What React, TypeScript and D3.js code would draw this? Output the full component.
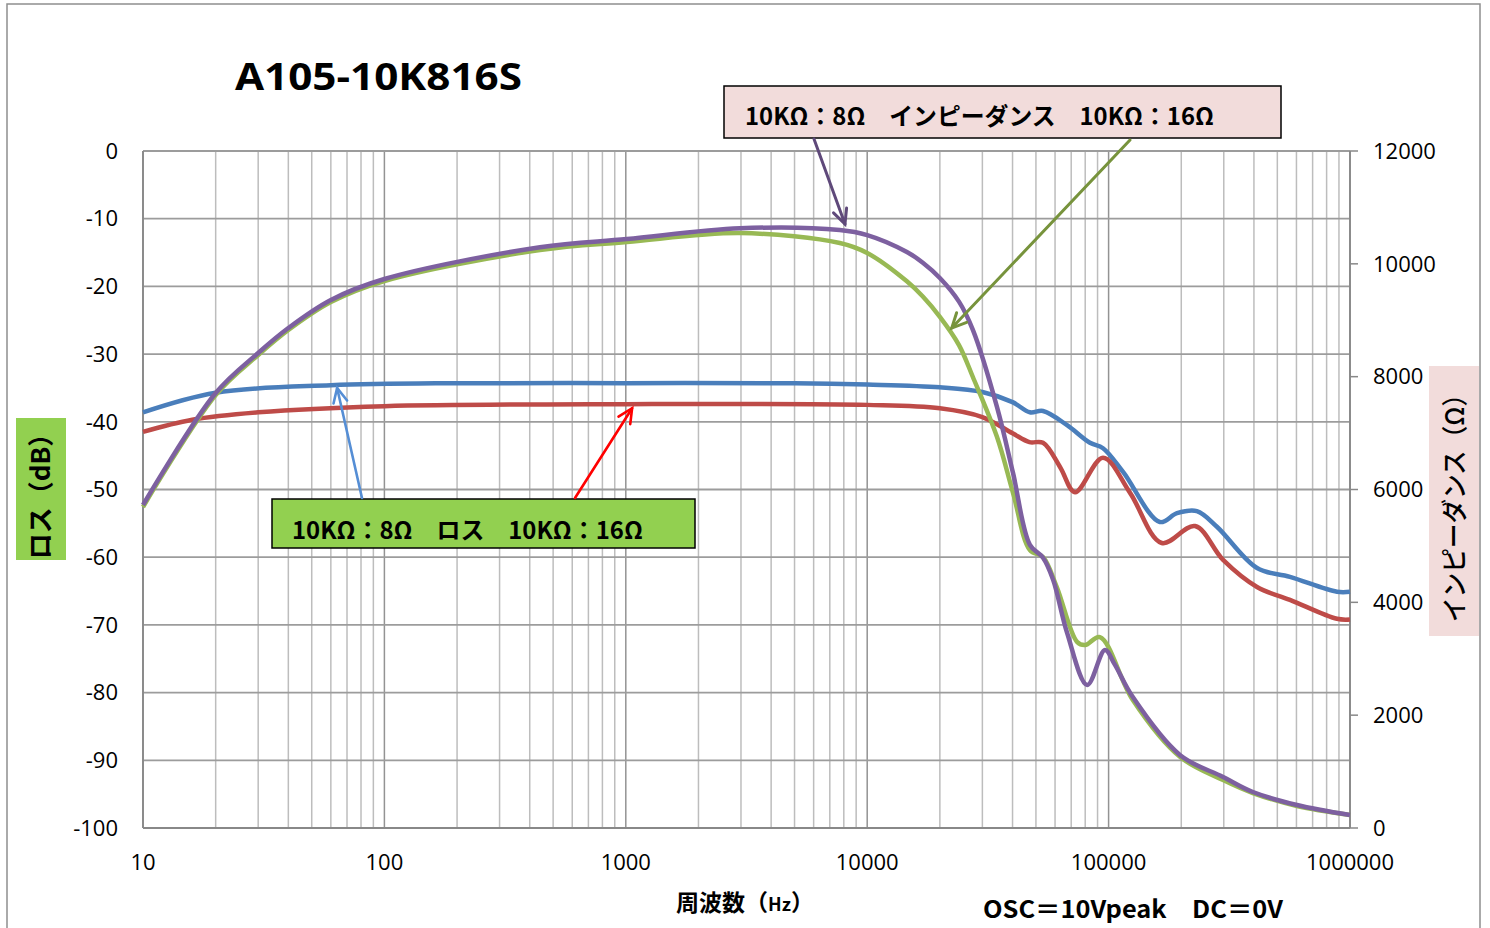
import * as d3 from "d3";

// frequency (Hz), value pairs
const loss8: [number, number][] = [
  [10, -38.6], [20, -35.7], [60, -34.6], [200, -34.3], [1000, -34.3], [5000, -34.3],
  [10000, -34.5], [20000, -34.9], [30000, -35.6], [40000, -37.1], [47200, -38.6],
  [53500, -38.4], [67300, -40.5], [83700, -43.1], [94800, -43.9], [114800, -47.4],
  [163000, -54.8], [192000, -53.5], [232000, -53.2], [281000, -55.5], [412000, -61.6],
  [564000, -62.9], [883000, -65.1], [1000000, -65.1],
];

const loss16: [number, number][] = [
  [10, -41.5], [16, -39.7], [30, -38.6], [100, -37.7], [1000, -37.4], [10000, -37.5],
  [20000, -38.0], [30000, -39.3], [40000, -41.7], [47000, -43.0], [53500, -43.1],
  [63000, -46.7], [72600, -50.4], [94800, -45.3], [122700, -50.5], [166000, -57.9],
  [228000, -55.4], [298000, -60.4], [412000, -64.4], [564000, -66.3], [883000, -69.1],
  [1000000, -69.2],
];

const imp16: [number, number][] = [
  [10, 5690], [20, 7675], [30, 8384], [40, 8827], [60, 9323], [100, 9696], [441, 10245],
  [1010, 10387], [2970, 10545], [7700, 10369], [10000, 10192], [14600, 9690],
  [17000, 9420], [20000, 9060], [24000, 8560], [27400, 7994], [34500, 6930], [40200, 5938],
  [47200, 4928], [53500, 4803], [61000, 4272], [74000, 3300], [80000, 3244],
  [92000, 3385], [126000, 2269], [198000, 1258], [298000, 850], [396000, 620],
  [603000, 390], [1000000, 230],
];

const imp8: [number, number][] = [
  [10, 5725], [20, 7710], [30, 8420], [40, 8862], [60, 9359], [100, 9731], [441, 10294],
  [1010, 10440], [2970, 10630], [7700, 10600], [10000, 10510], [14600, 10210],
  [17000, 10020], [20000, 9750], [24000, 9330], [27400, 8830], [34500, 7460], [40200, 6290],
  [47200, 5020], [53500, 4790], [58900, 4400], [67300, 3460], [81500, 2535],
  [96600, 3155], [106000, 2900], [126000, 2320], [198000, 1290],
  [298000, 905], [396000, 638], [603000, 408], [1000000, 230],
];

const xTicks = [10, 100, 1000, 10000, 100000, 1000000];
const lossTicks = d3.range(0, -101, -10);
const impTicks = d3.range(0, 12001, 2000);

const W = 1490;
const H = 928;
const L = 143, R = 1350, T = 151, B = 828;
const FONT = "'Open Sans', 'Noto Sans CJK JP', sans-serif";
const JP = "'Noto Sans CJK JP', 'Open Sans', sans-serif";

const x = d3.scaleLog().domain([10, 1e6]).range([L, R]);
const yL = d3.scaleLinear().domain([-100, 0]).range([B, T]);
const yR = d3.scaleLinear().domain([0, 12000]).range([B, T]);

const minorX: number[] = [];
for (let e = 1; e < 6; e++) {
  for (let m = 2; m <= 9; m++) minorX.push(m * Math.pow(10, e));
}

function arrow(x1: number, y1: number, x2: number, y2: number, color: string, w = 2.6) {
  const a = Math.atan2(y2 - y1, x2 - x1);
  const len = 16;
  const sp = 0.45;
  const p1 = [x2 - len * Math.cos(a - sp), y2 - len * Math.sin(a - sp)];
  const p2 = [x2 - len * Math.cos(a + sp), y2 - len * Math.sin(a + sp)];
  return (
    <g stroke={color} strokeWidth={w} fill="none" strokeLinecap="round">
      <line x1={x1} y1={y1} x2={x2} y2={y2} />
      <polyline points={`${p1[0]},${p1[1]} ${x2},${y2} ${p2[0]},${p2[1]}`} />
    </g>
  );
}

export default function App() {
  const lineL = d3
    .line<[number, number]>()
    .x((d) => x(d[0]))
    .y((d) => yL(d[1]))
    .curve(d3.curveCatmullRom.alpha(0.5));
  const lineR = d3
    .line<[number, number]>()
    .x((d) => x(d[0]))
    .y((d) => yR(d[1]))
    .curve(d3.curveCatmullRom.alpha(0.5));

  return (
    <svg
      width={W}
      height={H}
      style={{ position: "absolute", left: 0, top: 0, background: "#fff" }}
      fontFamily={FONT}
    >
      <rect x={7} y={4} width={1473} height={950} fill="#fff" stroke="#8e8e8e" strokeWidth={1.5} />

      {/* grid */}
      {minorX.map((f) => (
        <line key={f} x1={x(f)} x2={x(f)} y1={T} y2={B} stroke="#bdbdbd" strokeWidth={1.5} />
      ))}
      {xTicks.map((f) => (
        <line key={f} x1={x(f)} x2={x(f)} y1={T} y2={B} stroke="#939393" strokeWidth={1.5} />
      ))}
      {lossTicks.map((v) => (
        <line key={v} x1={L} x2={R} y1={yL(v)} y2={yL(v)} stroke="#9c9c9c" strokeWidth={1.8} />
      ))}
      <line x1={L} x2={L} y1={T} y2={B} stroke="#888" strokeWidth={1.8} />
      <line x1={L} x2={R} y1={B} y2={B} stroke="#888" strokeWidth={1.8} />
      <line x1={R} x2={R} y1={T} y2={B} stroke="#888" strokeWidth={1.8} />
      {impTicks.map((v) => (
        <line key={v} x1={R} x2={R + 8} y1={yR(v)} y2={yR(v)} stroke="#888" strokeWidth={1.5} />
      ))}

      {/* tick labels */}
      {lossTicks.map((v) => (
        <text key={v} x={118} y={yL(v)} dy="0.35em" textAnchor="end" fontSize={22}>
          {v}
        </text>
      ))}
      {impTicks.map((v) => (
        <text key={v} x={1373} y={yR(v)} dy="0.35em" textAnchor="start" fontSize={22}>
          {v}
        </text>
      ))}
      {xTicks.map((f) => (
        <text key={f} x={x(f)} y={862} dy="0.35em" textAnchor="middle" fontSize={22}>
          {f}
        </text>
      ))}

      {/* series */}
      <path d={lineL(loss8) ?? ""} fill="none" stroke="#4a7ebb" strokeWidth={4.5} />
      <path d={lineL(loss16) ?? ""} fill="none" stroke="#be4b48" strokeWidth={4.5} />
      <path d={lineR(imp16) ?? ""} fill="none" stroke="#98b954" strokeWidth={4.5} />
      <path d={lineR(imp8) ?? ""} fill="none" stroke="#7d60a0" strokeWidth={4.5} />

      {/* title */}
      <text x={235} y={90} fontSize={38} fontWeight="bold" textLength={287} lengthAdjust="spacingAndGlyphs">
        A105-10K816S
      </text>

      {/* impedance legend box */}
      <rect x={724} y={86} width={557} height={52} fill="#f2dcdb" stroke="#000" strokeWidth={1.5} />
      <text x={745} y={125} fontSize={24} fontWeight="bold" fontFamily={JP} textLength={469} lengthAdjust="spacingAndGlyphs">
        10KΩ：8Ω　インピーダンス　10KΩ：16Ω
      </text>
      {arrow(814, 139, x(8090), yR(10706), "#5f497a", 3)}
      {arrow(1130, 140, x(22400), yR(8862), "#77933c", 3)}

      {/* loss legend box */}
      <rect x={272} y={499} width={423} height={49} fill="#92d050" stroke="#000" strokeWidth={1.5} />
      <text x={292} y={539} fontSize={24} fontWeight="bold" fontFamily={JP} textLength={351} lengthAdjust="spacingAndGlyphs">
        10KΩ：8Ω　ロス　10KΩ：16Ω
      </text>
      {arrow(362, 498, x(63.7), yL(-35.0), "#558ed5")}
      {arrow(575, 498, x(1062), yL(-38.0), "#ff0000")}

      {/* left axis title */}
      <rect x={16} y={418} width={50} height={142} fill="#92d050" />
      <text
        transform="translate(41,490) rotate(-90)"
        textAnchor="middle"
        dy="0.35em"
        fontSize={26}
        fontWeight="bold"
        fontFamily={JP}
      >
        ロス（dB）
      </text>

      {/* right axis title */}
      <rect x={1429} y={366} width={50} height={270} fill="#f2dcdb" />
      <text
        transform="translate(1455,502) rotate(-90)"
        textAnchor="middle"
        dy="0.35em"
        fontSize={26}
        fontWeight={500}
        fontFamily={JP}
        textLength={240}
        lengthAdjust="spacingAndGlyphs"
      >
        インピーダンス（Ω）
      </text>

      {/* x axis title */}
      <text x={745} y={903} dy="0.35em" textAnchor="middle" fontSize={23} fontWeight="bold" fontFamily={JP}>
        周波数（<tspan fontSize={18}>Hz</tspan>）
      </text>
      <text x={983} y={918} fontSize={24} fontWeight="bold" fontFamily={JP} textLength={300} lengthAdjust="spacingAndGlyphs">
        OSC＝10Vpeak　DC＝0V
      </text>
    </svg>
  );
}
